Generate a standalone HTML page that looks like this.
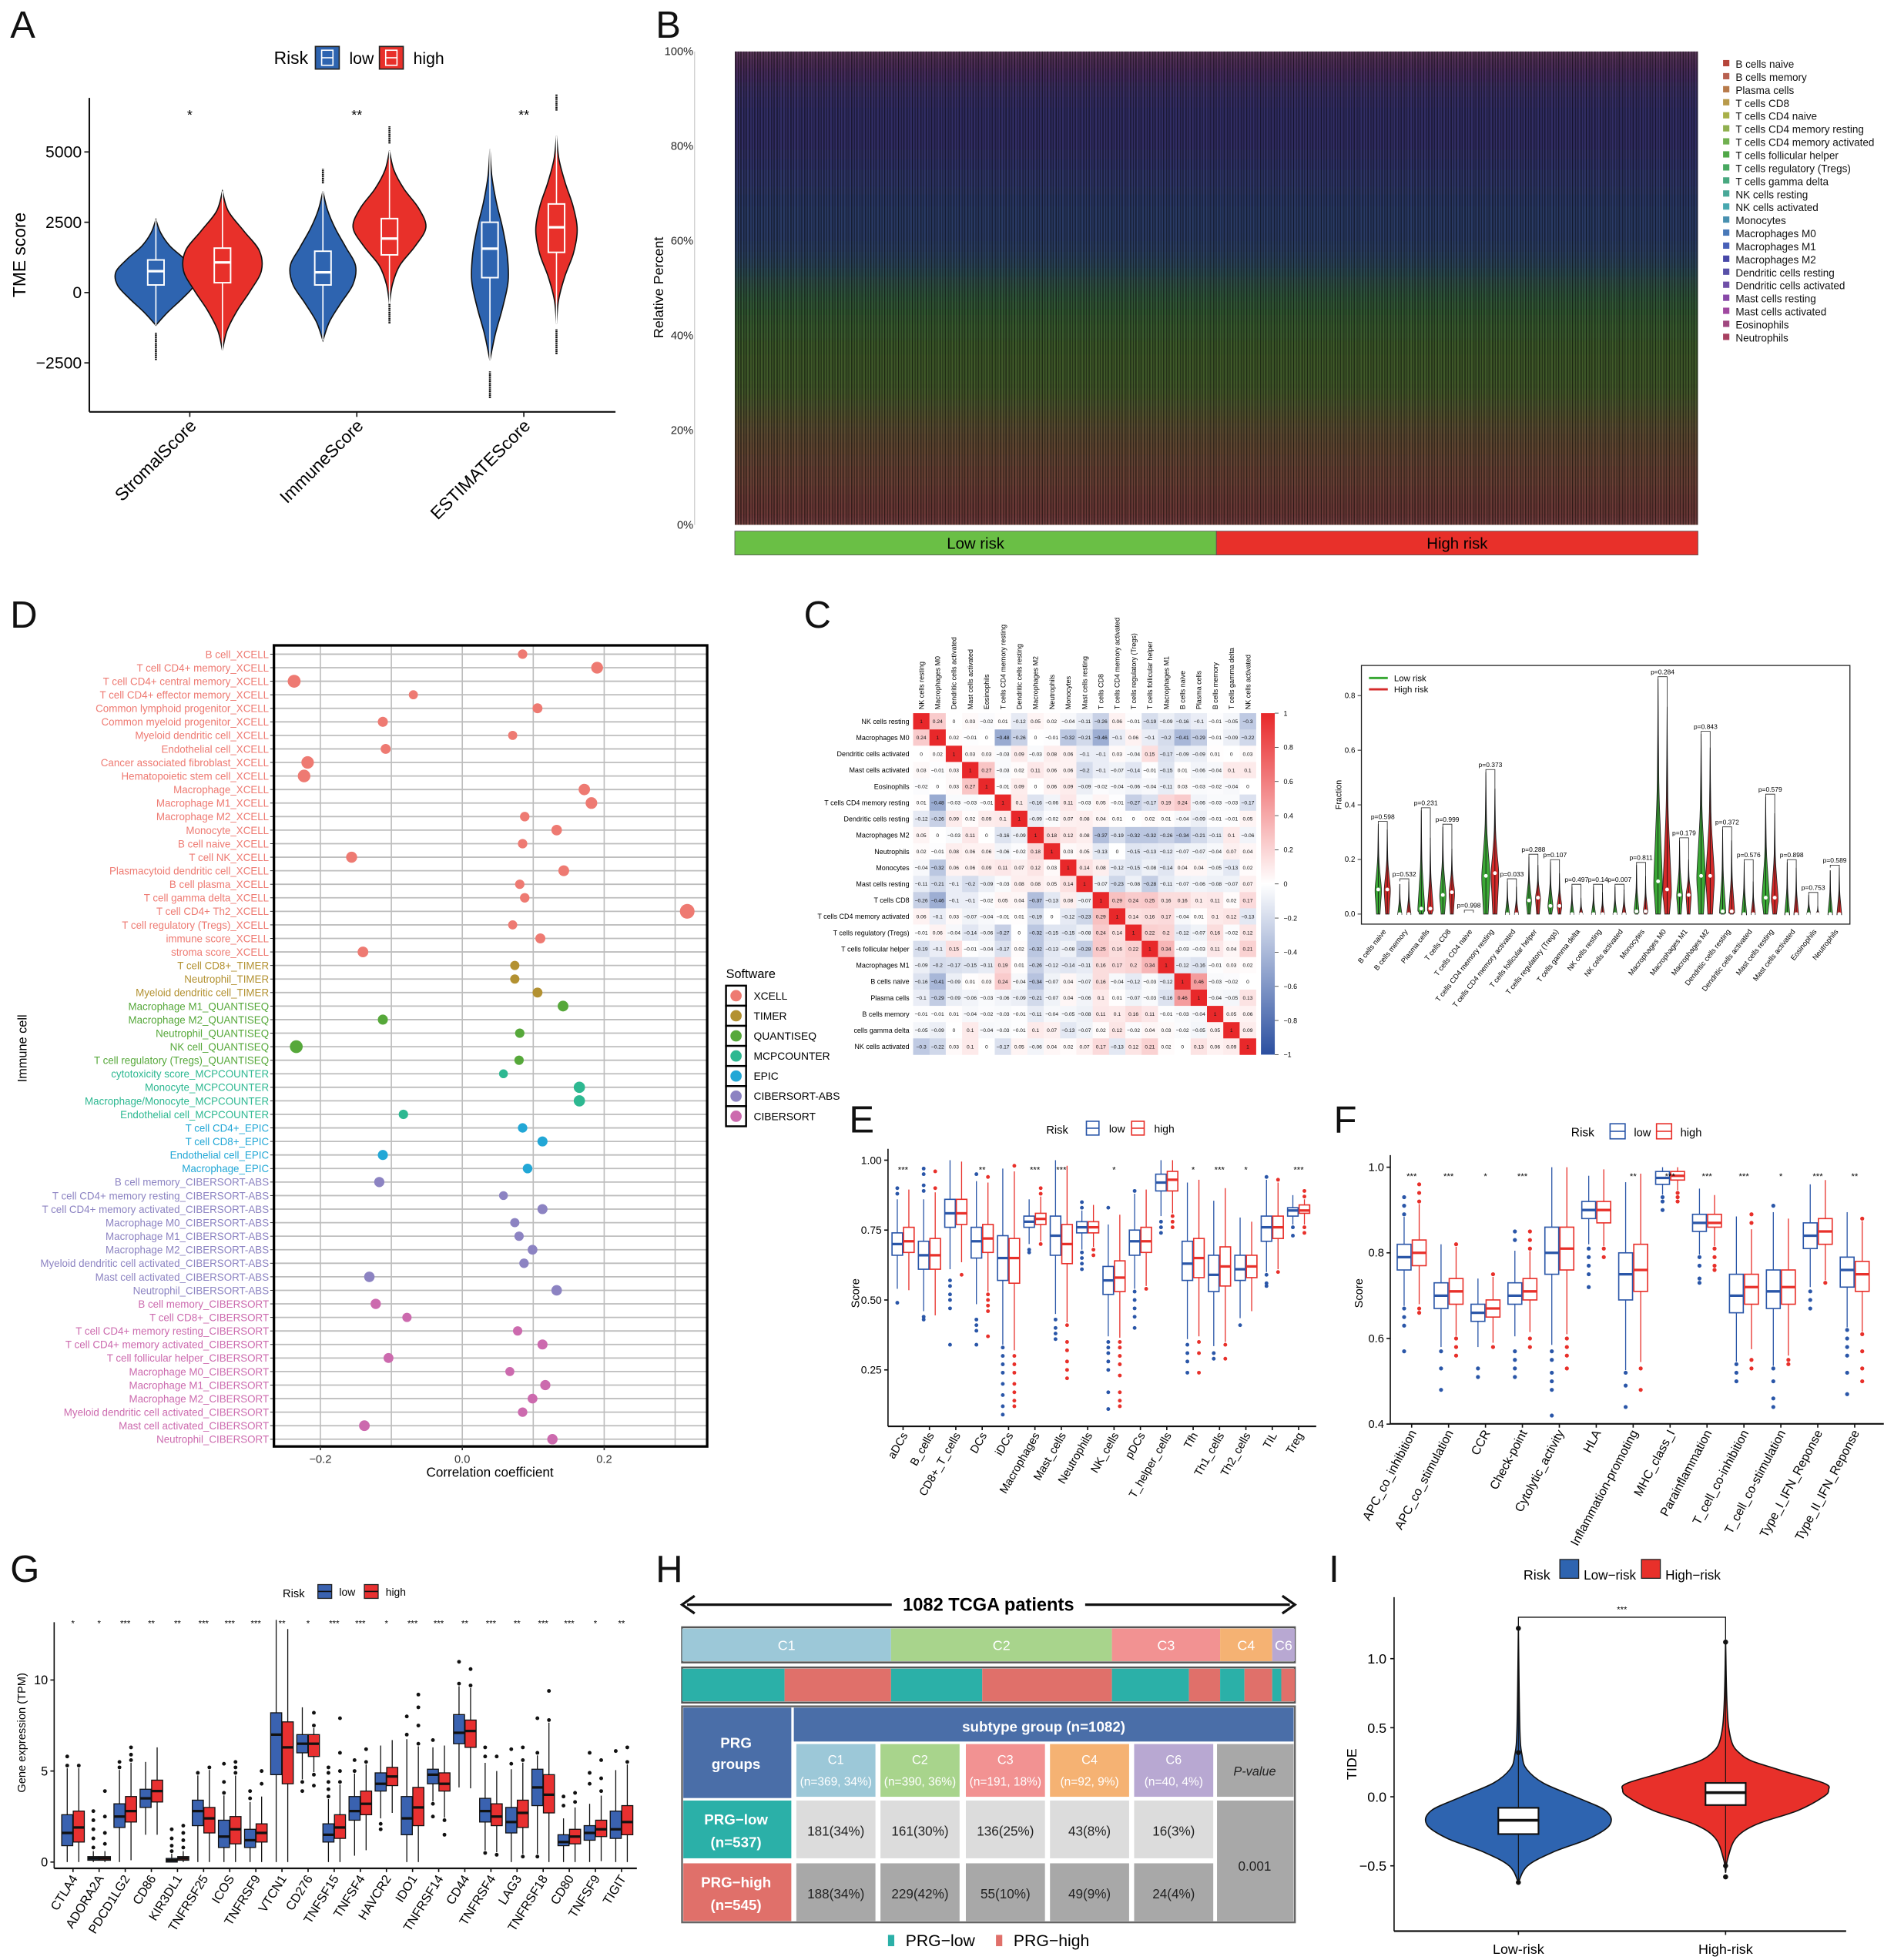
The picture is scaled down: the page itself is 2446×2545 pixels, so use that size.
<!DOCTYPE html>
<html><head><meta charset="utf-8">
<style>html,body{margin:0;padding:0;background:#fff}svg{display:block}text{font-family:"Liberation Sans",Arial,sans-serif}</style>
</head><body>
<svg id="fig" xmlns="http://www.w3.org/2000/svg" width="2446" height="2545" viewBox="0 0 1500 1561">
<defs>
<pattern id="stripes" width="2.2" height="10" patternUnits="userSpaceOnUse"><rect x="0" y="0" width="0.8" height="10" fill="#000" opacity="0.45"/></pattern>
<pattern id="stripes2" width="3.7" height="10" patternUnits="userSpaceOnUse"><rect x="1" y="0" width="0.6" height="10" fill="#000" opacity="0.3"/></pattern>
<filter id="vblur" x="0" y="-0.2" width="1" height="1.4"><feGaussianBlur stdDeviation="0 14"/></filter>
<linearGradient id="cbar" x1="0" y1="1" x2="0" y2="0"><stop offset="0" stop-color="#2b4fa0"/><stop offset="0.5" stop-color="#ffffff"/><stop offset="1" stop-color="#e8282a"/></linearGradient>
</defs>
</svg>
<script>
// ---------------- DATA ----------------
// Panel A
const aCats=['StromalScore','ImmuneScore','ESTIMATEScore'];
const aSig=['*','**','**'];
const aLowBox=[[270,760,1160],[270,720,1470],[530,1560,2500]];
const aHighBox=[[350,1070,1580],[1340,1920,2630],[1430,2320,3150]];
const aLowRange=[[-1160,2590],[-1700,3600],[-2400,5090]];
const aHighRange=[[-2050,3600],[-400,5040],[-1100,5570]];
const aLowDens=[[0,.3,.65,.95,1,.72,.35,.12,0],[0,.2,.55,.92,1,.7,.38,.14,0],[0,.3,.7,1,.95,.7,.35,.1,0]];
const aHighDens=[[0,.12,.38,.72,1,.95,.55,.15,0],[0,.08,.28,.7,1,.8,.4,.12,0],[0,.1,.4,.82,1,.8,.42,.12,0]];
const aLowOut=[[[-2400,-1430]],[[3880,4400]],[[-3750,-2800]]];
const aHighOut=[[],[[5300,5910],[-1100,-400]],[[6470,7050],[-2190,-1300]]];
const aYTicks=[-2500,0,2500,5000];
// Panel B
const bCells=['B cells naive','B cells memory','Plasma cells','T cells CD8','T cells CD4 naive','T cells CD4 memory resting','T cells CD4 memory activated','T cells follicular helper','T cells regulatory (Tregs)','T cells gamma delta','NK cells resting','NK cells activated','Monocytes','Macrophages M0','Macrophages M1','Macrophages M2','Dendritic cells resting','Dendritic cells activated','Mast cells resting','Mast cells activated','Eosinophils','Neutrophils'];
const bMeanFrac=[.06,.01,.08,.09,.005,.16,.01,.06,.04,.005,.02,.01,.01,.14,.07,.16,.01,.01,.04,.005,.002,.005];
const bYTicks=['0%','20%','40%','60%','80%','100%'];
const bGroups=['Low risk','High risk'];
const bGroupN=[541,541];
// Panel D
const dLabels=['B cell_XCELL','T cell CD4+ memory_XCELL','T cell CD4+ central memory_XCELL','T cell CD4+ effector memory_XCELL','Common lymphoid progenitor_XCELL','Common myeloid progenitor_XCELL','Myeloid dendritic cell_XCELL','Endothelial cell_XCELL','Cancer associated fibroblast_XCELL','Hematopoietic stem cell_XCELL','Macrophage_XCELL','Macrophage M1_XCELL','Macrophage M2_XCELL','Monocyte_XCELL','B cell naive_XCELL','T cell NK_XCELL','Plasmacytoid dendritic cell_XCELL','B cell plasma_XCELL','T cell gamma delta_XCELL','T cell CD4+ Th2_XCELL','T cell regulatory (Tregs)_XCELL','immune score_XCELL','stroma score_XCELL','T cell CD8+_TIMER','Neutrophil_TIMER','Myeloid dendritic cell_TIMER','Macrophage M1_QUANTISEQ','Macrophage M2_QUANTISEQ','Neutrophil_QUANTISEQ','NK cell_QUANTISEQ','T cell regulatory (Tregs)_QUANTISEQ','cytotoxicity score_MCPCOUNTER','Monocyte_MCPCOUNTER','Macrophage/Monocyte_MCPCOUNTER','Endothelial cell_MCPCOUNTER','T cell CD4+_EPIC','T cell CD8+_EPIC','Endothelial cell_EPIC','Macrophage_EPIC','B cell memory_CIBERSORT-ABS','T cell CD4+ memory resting_CIBERSORT-ABS','T cell CD4+ memory activated_CIBERSORT-ABS','Macrophage M0_CIBERSORT-ABS','Macrophage M1_CIBERSORT-ABS','Macrophage M2_CIBERSORT-ABS','Myeloid dendritic cell activated_CIBERSORT-ABS','Mast cell activated_CIBERSORT-ABS','Neutrophil_CIBERSORT-ABS','B cell memory_CIBERSORT','T cell CD8+_CIBERSORT','T cell CD4+ memory resting_CIBERSORT','T cell CD4+ memory activated_CIBERSORT','T cell follicular helper_CIBERSORT','Macrophage M0_CIBERSORT','Macrophage M1_CIBERSORT','Macrophage M2_CIBERSORT','Myeloid dendritic cell activated_CIBERSORT','Mast cell activated_CIBERSORT','Neutrophil_CIBERSORT'];
const dValues=[0.085,0.19,-0.237,-0.069,0.106,-0.112,0.071,-0.108,-0.218,-0.223,0.172,0.182,0.088,0.133,0.085,-0.156,0.143,0.081,0.088,0.317,0.071,0.11,-0.14,0.074,0.074,0.106,0.142,-0.112,0.081,-0.234,0.08,0.058,0.165,0.165,-0.083,0.085,0.113,-0.112,0.092,-0.117,0.058,0.113,0.074,0.08,0.099,0.087,-0.131,0.133,-0.122,-0.078,0.078,0.113,-0.104,0.067,0.117,0.099,0.085,-0.138,0.127];
const dSoftware=['XCELL','TIMER','QUANTISEQ','MCPCOUNTER','EPIC','CIBERSORT-ABS','CIBERSORT'];
const dSoftCounts=[23,3,5,4,4,9,11];
const dXTicks=[-0.2,0.0,0.2];
// Panel C heatmap
const cCells=['NK cells resting','Macrophages M0','Dendritic cells activated','Mast cells activated','Eosinophils','T cells CD4 memory resting','Dendritic cells resting','Macrophages M2','Neutrophils','Monocytes','Mast cells resting','T cells CD8','T cells CD4 memory activated','T cells regulatory (Tregs)','T cells follicular helper','Macrophages M1','B cells naive','Plasma cells','B cells memory','T cells gamma delta','NK cells activated'];
const cRowLabels=['NK cells resting','Macrophages M0','Dendritic cells activated','Mast cells activated','Eosinophils','T cells CD4 memory resting','Dendritic cells resting','Macrophages M2','Neutrophils','Monocytes','Mast cells resting','T cells CD8','T cells CD4 memory activated','T cells regulatory (Tregs)','T cells follicular helper','Macrophages M1','B cells naive','Plasma cells','B cells memory','cells gamma delta','NK cells activated'];
const cMatrix=[
[1,0.24,0,0.03,-0.02,0.01,-0.12,0.05,0.02,-0.04,-0.11,-0.26,0.06,-0.01,-0.19,-0.09,-0.16,-0.1,-0.01,-0.05,-0.3],
[0.24,1,0.02,-0.01,0,-0.48,-0.26,0,-0.01,-0.32,-0.21,-0.46,-0.1,0.06,-0.1,-0.2,-0.41,-0.29,-0.01,-0.09,-0.22],
[0,0.02,1,0.03,0.03,-0.03,0.09,-0.03,0.08,0.06,-0.1,-0.1,0.03,-0.04,0.15,-0.17,-0.09,-0.09,0.01,0,0.03],
[0.03,-0.01,0.03,1,0.27,-0.03,0.02,0.11,0.06,0.06,-0.2,-0.1,-0.07,-0.14,-0.01,-0.15,0.01,-0.06,-0.04,0.1,0.1],
[-0.02,0,0.03,0.27,1,-0.01,0.09,0,0.06,0.09,-0.09,-0.02,-0.04,-0.06,-0.04,-0.11,0.03,-0.03,-0.02,-0.04,0],
[0.01,-0.48,-0.03,-0.03,-0.01,1,0.1,-0.16,-0.06,0.11,-0.03,0.05,-0.01,-0.27,-0.17,0.19,0.24,-0.06,-0.03,-0.03,-0.17],
[-0.12,-0.26,0.09,0.02,0.09,0.1,1,-0.09,-0.02,0.07,0.08,0.04,0.01,0,0.02,0.01,-0.04,-0.09,-0.01,-0.01,0.05],
[0.05,0,-0.03,0.11,0,-0.16,-0.09,1,0.18,0.12,0.08,-0.37,-0.19,-0.32,-0.32,-0.26,-0.34,-0.21,-0.11,0.1,-0.06],
[0.02,-0.01,0.08,0.06,0.06,-0.06,-0.02,0.18,1,0.03,0.05,-0.13,0,-0.15,-0.13,-0.12,-0.07,-0.07,-0.04,0.07,0.04],
[-0.04,-0.32,0.06,0.06,0.09,0.11,0.07,0.12,0.03,1,0.14,0.08,-0.12,-0.15,-0.08,-0.14,0.04,0.04,-0.05,-0.13,0.02],
[-0.11,-0.21,-0.1,-0.2,-0.09,-0.03,0.08,0.08,0.05,0.14,1,-0.07,-0.23,-0.08,-0.28,-0.11,-0.07,-0.06,-0.08,-0.07,0.07],
[-0.26,-0.46,-0.1,-0.1,-0.02,0.05,0.04,-0.37,-0.13,0.08,-0.07,1,0.29,0.24,0.25,0.16,0.16,0.1,0.11,0.02,0.17],
[0.06,-0.1,0.03,-0.07,-0.04,-0.01,0.01,-0.19,0,-0.12,-0.23,0.29,1,0.14,0.16,0.17,-0.04,0.01,0.1,0.12,-0.13],
[-0.01,0.06,-0.04,-0.14,-0.06,-0.27,0,-0.32,-0.15,-0.15,-0.08,0.24,0.14,1,0.22,0.2,-0.12,-0.07,0.16,-0.02,0.12],
[-0.19,-0.1,0.15,-0.01,-0.04,-0.17,0.02,-0.32,-0.13,-0.08,-0.28,0.25,0.16,0.22,1,0.34,-0.03,-0.03,0.11,0.04,0.21],
[-0.09,-0.2,-0.17,-0.15,-0.11,0.19,0.01,-0.26,-0.12,-0.14,-0.11,0.16,0.17,0.2,0.34,1,-0.12,-0.16,-0.01,0.03,0.02],
[-0.16,-0.41,-0.09,0.01,0.03,0.24,-0.04,-0.34,-0.07,0.04,-0.07,0.16,-0.04,-0.12,-0.03,-0.12,1,0.46,-0.03,-0.02,0],
[-0.1,-0.29,-0.09,-0.06,-0.03,-0.06,-0.09,-0.21,-0.07,0.04,-0.06,0.1,0.01,-0.07,-0.03,-0.16,0.46,1,-0.04,-0.05,0.13],
[-0.01,-0.01,0.01,-0.04,-0.02,-0.03,-0.01,-0.11,-0.04,-0.05,-0.08,0.11,0.1,0.16,0.11,-0.01,-0.03,-0.04,1,0.05,0.06],
[-0.05,-0.09,0,0.1,-0.04,-0.03,-0.01,0.1,0.07,-0.13,-0.07,0.02,0.12,-0.02,0.04,0.03,-0.02,-0.05,0.05,1,0.09],
[-0.3,-0.22,0.03,0.1,0,-0.17,0.05,-0.06,0.04,0.02,0.07,0.17,-0.13,0.12,0.21,0.02,0,0.13,0.06,0.09,1]];
const cBarTicks=[1,0.8,0.6,0.4,0.2,0,-0.2,-0.4,-0.6,-0.8,-1];
// Panel C violins
const vCats=['B cells naive','B cells memory','Plasma cells','T cells CD8','T cells CD4 naive','T cells CD4 memory resting','T cells CD4 memory activated','T cells follicular helper','T cells regulatory (Tregs)','T cells gamma delta','NK cells resting','NK cells activated','Monocytes','Macrophages M0','Macrophages M1','Macrophages M2','Dendritic cells resting','Dendritic cells activated','Mast cells resting','Mast cells activated','Eosinophils','Neutrophils'];
const vLowMax=[0.33,0.11,0.38,0.32,0.005,0.52,0.12,0.21,0.19,0.10,0.10,0.10,0.18,0.86,0.27,0.66,0.31,0.19,0.43,0.19,0.07,0.16];
const vHighMax=[0.31,0.12,0.28,0.24,0.005,0.46,0.10,0.18,0.15,0.06,0.08,0.09,0.14,0.76,0.20,0.61,0.27,0.12,0.37,0.17,0.03,0.17];
const vLowMed=[0.09,0,0.02,0.07,0,0.14,0,0.05,0.03,0,0,0,0.01,0.12,0.07,0.14,0.01,0,0.06,0,0,0];
const vHighMed=[0.09,0,0.02,0.08,0,0.15,0,0.06,0.03,0,0,0,0.01,0.09,0.07,0.14,0.01,0,0.06,0,0,0];
const vP=['p=0.598','p=0.532','p=0.231','p=0.999','p=0.998','p=0.373','p=0.033','p=0.288','p=0.107','p=0.497','p=0.14','p=0.007','p=0.811','p=0.284','p=0.179','p=0.843','p=0.372','p=0.576','p=0.579','p=0.898','p=0.753','p=0.589'];
const vYTicks=[0,0.2,0.4,0.6,0.8];
// Panel E
const eCats=['aDCs','B_cells','CD8+_T_cells','DCs','iDCs','Macrophages','Mast_cells','Neutrophils','NK_cells','pDCs','T_helper_cells','Tfh','Th1_cells','Th2_cells','TIL','Treg'];
const eSig=['***','','','**','','***','***','','*','','','*','***','*','','***'];
const eLow=[[0.66,0.70,0.74],[0.61,0.66,0.71],[0.76,0.81,0.86],[0.65,0.71,0.76],[0.57,0.65,0.73],[0.76,0.78,0.80],[0.66,0.73,0.80],[0.74,0.76,0.78],[0.52,0.57,0.62],[0.66,0.71,0.75],[0.89,0.92,0.95],[0.57,0.63,0.71],[0.53,0.59,0.66],[0.57,0.61,0.66],[0.71,0.76,0.80],[0.80,0.82,0.83]];
const eHigh=[[0.67,0.71,0.76],[0.61,0.66,0.72],[0.77,0.81,0.86],[0.67,0.72,0.77],[0.56,0.65,0.72],[0.77,0.79,0.81],[0.63,0.70,0.77],[0.74,0.76,0.78],[0.53,0.58,0.64],[0.67,0.71,0.76],[0.89,0.93,0.96],[0.58,0.65,0.72],[0.55,0.62,0.69],[0.58,0.62,0.66],[0.72,0.76,0.80],[0.81,0.82,0.84]];
const eLowOut=[[0.9,0.88,0.49],[0.97,0.95,0.91,0.89,0.44,0.43],[0.57,0.55,0.52,0.5,0.47,0.34],[0.95,0.43,0.41,0.39,0.34],[0.33,0.3,0.27,0.24,0.2,0.16,0.12,0.09],[0.68,0.67],[0.43,0.4,0.38,0.36],[0.85,0.83,0.67,0.65,0.63,0.61],[0.83,0.35,0.33,0.31,0.28,0.25,0.17,0.11],[0.89,0.53,0.5,0.47,0.44,0.4],[0.78,0.76,0.74],[0.34,0.31,0.28,0.24],[0.31,0.29],[0.41],[0.94,0.59,0.56,0.55],[0.76,0.73]];
const eHighOut=[[],[0.96,0.9],[0.59],[0.94,0.52,0.5,0.48,0.46,0.37],[0.98,0.3,0.27,0.24,0.2,0.17,0.14,0.12],[0.9,0.88,0.7],[0.41,0.35,0.32,0.28,0.25,0.22],[0.68,0.66],[0.35,0.33,0.3,0.27,0.23,0.17,0.14,0.12],[0.54],[0.8,0.78,0.76],[0.35,0.31,0.24],[0.34,0.29],[],[0.93,0.6],[0.89,0.87,0.76,0.74]];
const eYTicks=[0.25,0.50,0.75,1.00];
// Panel F
const fCats=['APC_co_inhibition','APC_co_stimulation','CCR','Check-point','Cytolytic_activity','HLA','Inflammation-promoting','MHC_class_I','Parainflammation','T_cell_co-inhibition','T_cell_co-stimulation','Type_I_IFN_Reponse','Type_II_IFN_Reponse'];
const fSig=['***','***','*','***','','','**','***','***','***','*','***','**'];
const fLow=[[0.76,0.79,0.82],[0.67,0.70,0.73],[0.64,0.66,0.68],[0.68,0.70,0.73],[0.75,0.80,0.86],[0.88,0.90,0.92],[0.69,0.75,0.80],[0.96,0.975,0.99],[0.85,0.87,0.89],[0.66,0.70,0.75],[0.67,0.71,0.76],[0.81,0.84,0.87],[0.72,0.76,0.79]];
const fHigh=[[0.77,0.80,0.83],[0.68,0.71,0.74],[0.65,0.67,0.69],[0.69,0.71,0.74],[0.76,0.81,0.86],[0.87,0.90,0.92],[0.71,0.76,0.82],[0.97,0.98,0.99],[0.86,0.87,0.89],[0.68,0.72,0.75],[0.68,0.72,0.76],[0.82,0.85,0.88],[0.71,0.75,0.78]];
const fLowOut=[[0.93,0.91,0.89,0.67,0.65,0.63,0.57],[0.57,0.53,0.48],[0.53,0.51],[0.85,0.83,0.57,0.55,0.53,0.51],[0.57,0.55,0.52,0.5,0.48,0.42],[0.81,0.79,0.77,0.75,0.72],[0.52,0.49,0.44],[0.93,0.92,0.9],[0.79,0.77,0.74,0.73],[0.54,0.52,0.5],[0.91,0.53,0.5,0.46,0.44],[0.71,0.69,0.67],[0.62,0.6,0.58,0.56,0.52,0.47]];
const fHighOut=[[0.96,0.94,0.92,0.67,0.66],[0.82,0.6,0.58,0.56],[0.75,0.58],[0.85,0.83,0.81,0.6,0.58],[0.6,0.58,0.56,0.53],[0.81,0.79],[0.53,0.48],[0.94,0.93,0.92],[0.81,0.79,0.77,0.76],[0.89,0.87,0.55,0.53],[0.55,0.54],[0.73],[0.88,0.61,0.57,0.53,0.5]];
const fYTicks=[0.4,0.6,0.8,1.0];
// Panel G
const gGenes=['CTLA4','ADORA2A','PDCD1LG2','CD86','KIR3DL1','TNFRSF25','ICOS','TNFRSF9','VTCN1','CD276','TNFSF15','TNFSF4','HAVCR2','IDO1','TNFRSF14','CD44','TNFRSF4','LAG3','TNFRSF18','CD80','TNFSF9','TIGIT'];
const gSig=['*','*','***','**','**','***','***','***','**','*','***','***','*','***','***','**','***','**','***','***','*','**'];
const gLow=[[0.9,1.6,2.6],[0.1,0.2,0.3],[1.9,2.5,3.2],[3.0,3.5,4.0],[0,0.1,0.2],[2.0,2.8,3.4],[0.8,1.4,2.3],[0.8,1.2,1.8],[4.8,7.0,8.2],[6.0,6.5,7.0],[1.1,1.5,2.1],[2.3,2.8,3.6],[3.9,4.3,4.9],[1.5,2.4,3.6],[4.3,4.8,5.1],[6.5,7.1,8.1],[2.2,2.8,3.5],[1.6,2.2,3.0],[3.1,4.1,5.1],[0.9,1.1,1.5],[1.2,1.6,2.0],[1.3,1.8,2.8]];
const gHigh=[[1.1,1.9,2.8],[0.1,0.2,0.3],[2.2,2.8,3.6],[3.3,3.9,4.5],[0.1,0.2,0.3],[1.6,2.4,3.0],[1.0,1.8,2.5],[1.1,1.6,2.1],[4.3,6.3,7.7],[5.8,6.5,7.0],[1.3,1.9,2.6],[2.6,3.2,3.9],[4.2,4.7,5.2],[2.0,3.0,4.1],[3.9,4.3,4.9],[6.3,7.2,7.8],[2.0,2.5,3.2],[1.9,2.7,3.4],[2.7,3.7,4.8],[1.0,1.4,1.8],[1.4,1.8,2.3],[1.5,2.2,3.1]];
const gLowOut=[[5.8,5.3],[2.8,2.3,1.8,1.3,0.8],[5.2,5.5],[],[1.8,1.3,0.9,0.6],[4.9],[5.4,4.4,3.8],[3.9,3.5],[],[4.4,3.9],[5.2,4.9,4.4,4.0,3.6],[5.6,5.0],[2.1,1.8],[8.0,7.0],[6.7,3.2,2.5],[11.0,9.8],[6.3,5.8,0.5],[6.2,5.4],[7.9,6.0,0.3],[3.6,3.1],[6.0,4.9,4.3],[6.1]];
const gHighOut=[[5.3],[3.9,2.5,1.6,1.0],[6.3,5.9,5.6],[],[2.0,1.6,1.2,0.8],[5.2],[5.5,5.2,4.9],[5.0,4.3],[],[8.2,7.5,4.8,4.2],[7.9,6.0,5.0,4.4],[6.2,5.5],[],[9.2,8.5,7.5,6.5],[2.3,1.5],[10.6,9.7],[5.8,0.4],[6.3,5.6,0.3],[9.4,7.8],[3.8,3.3],[5.6,4.6,3.9],[6.3,5.5]];
const gYTicks=[0,5,10];
// Panel H
const hSubtypes=['C1','C2','C3','C4','C6'];
const hLowN=[181,161,136,43,16];
const hHighN=[188,229,55,49,24];
const hLowPct=['34%','30%','25%','8%','3%'];
const hHighPct=['34%','42%','10%','9%','4%'];
const hSubPct=['34%','36%','18%','9%','4%'];
const hPValue='0.001';
// Panel I
const iCats=['Low-risk','High-risk'];
const iLowBox=[-0.27,-0.17,-0.08];
const iHighBox=[-0.06,0.03,0.10];
const iLowY=[-0.62,-0.5,-0.4,-0.3,-0.2,-0.1,0,0.1,0.2,0.3,0.5,1.22];
const iLowW=[0,0.1,0.38,0.78,1,0.95,0.62,0.27,0.09,0.04,0.015,0];
const iHighY=[-0.55,-0.45,-0.3,-0.2,-0.1,0,0.05,0.1,0.2,0.3,0.5,1.12];
const iHighW=[0,0.02,0.1,0.3,0.7,0.95,1,0.95,0.5,0.16,0.03,0];
const iLowOut=[1.22,0.32,-0.62];
const iHighOut=[1.12,-0.5,-0.58];
const iYTicks=[-0.5,0.0,0.5,1.0];

// ---------------- HELPERS ----------------
const svg=document.getElementById('fig');
const NS='http://www.w3.org/2000/svg';
function E(tag,a,p){const e=document.createElementNS(NS,tag);for(const k in a)e.setAttribute(k,a[k]);(p||svg).appendChild(e);return e;}
function T(x,y,txt,size,a,p){const e=E('text',Object.assign({x:x,y:y,'font-size':size},a||{}),p);e.textContent=txt;return e;}
function nm(el,name,inter){
  
  
  return el;}
function grp(name){const g=E('g',{});
  
  
  return g;}
function smoothPath(pts){let d='M'+pts[0][0].toFixed(2)+','+pts[0][1].toFixed(2);
  for(let i=0;i<pts.length-1;i++){const p0=pts[i-1]||pts[i],p1=pts[i],p2=pts[i+1],p3=pts[i+2]||p2;
    const c1=[p1[0]+(p2[0]-p0[0])/6,p1[1]+(p2[1]-p0[1])/6],c2=[p2[0]-(p3[0]-p1[0])/6,p2[1]-(p3[1]-p1[1])/6];
    d+=' C'+c1[0].toFixed(2)+','+c1[1].toFixed(2)+' '+c2[0].toFixed(2)+','+c2[1].toFixed(2)+' '+p2[0].toFixed(2)+','+p2[1].toFixed(2);}
  return d;}
function violinPath(cx,ys,ws,yf,half){
  const right=ys.map((v,i)=>[cx+ws[i]*half,yf(v)]);
  const left=ys.map((v,i)=>[cx-ws[i]*half,yf(v)]).reverse();
  return smoothPath(right)+' L'+smoothPath(left).slice(1)+' Z';}
function evenYs(lo,hi,n){const a=[];for(let i=0;i<n;i++)a.push(lo+(hi-lo)*i/(n-1));return a;}
function letter(x,y,t){const e=T(x,y,t,30,{fill:'#111'});nm(e,'panel-label-'+t.toLowerCase(),false);}

// ---------------- PANEL A ----------------
(function(){
const g=grp('panel-a-tme-violin');
letter(8,30,'A');
const ay=v=>233-v*56/2500, ax=i=>151+i*133;
const l=T(218,51,'Risk',14,{},g);nm(l,'legend-title',false);
[['#2e64b0','low',251],['#e8302a','high',302]].forEach(([c,t,x])=>{
  const k=E('rect',{x:x,y:37,width:19,height:18,fill:c,stroke:'#222','stroke-width':1},g);nm(k,'legend-key-'+t,false);
  E('rect',{x:x+5,y:40,width:9,height:12,fill:'none',stroke:'#fff','stroke-width':1},g);
  E('line',{x1:x+5,x2:x+14,y1:46,y2:46,stroke:'#fff'},g);
  const tt=T(x+27,51,t,13,{},g);nm(tt,'legend-label-'+t,false);});
E('line',{x1:71,x2:71,y1:78,y2:328,stroke:'#111','stroke-width':1.3},g);
E('line',{x1:71,x2:490,y1:328,y2:328,stroke:'#111','stroke-width':1.3},g);
aYTicks.forEach(v=>{E('line',{x1:67,x2:71,y1:ay(v),y2:ay(v),stroke:'#111'},g);
  const t=T(65,ay(v)+4.5,v==0?'0':(v<0?'\u22122500':String(v)),13,{'text-anchor':'end'},g);nm(t,'y-tick-label',false);});
const yt=T(0,0,'TME score',14,{transform:'translate(20,203) rotate(-90)','text-anchor':'middle'},g);nm(yt,'y-axis-title',false);
aCats.forEach((c,i)=>{
  E('line',{x1:ax(i),x2:ax(i),y1:328,y2:332,stroke:'#111'},g);
  const t=T(0,0,c,14,{transform:'translate('+(ax(i)+6)+',340) rotate(-45)','text-anchor':'end'},g);nm(t,'x-tick-label',false);
  const s=T(ax(i),95,aSig[i],11,{'text-anchor':'middle'},g);nm(s,'significance-stars',false);
  [[aLowRange,aLowDens,aLowBox,aLowOut,-27,'#2e64b0','low',[32,26,14.5]],[aHighRange,aHighDens,aHighBox,aHighOut,26,'#e8302a','high',[31,29,16.5]]].forEach(([R,D,B,O,off,col,nmx,peaks])=>{
    const cx=ax(i)+off;
    O[i].forEach(seg=>{const o=E('line',{x1:cx,x2:cx,y1:ay(seg[0]),y2:ay(seg[1]),stroke:'#111','stroke-width':1.6,'stroke-dasharray':'1.2 0.4'},g);nm(o,'outlier-points',false);});
    const p=E('path',{d:violinPath(cx,evenYs(R[i][0],R[i][1],D[i].length),D[i],ay,peaks[i]),fill:col,stroke:'#111','stroke-width':1},g);nm(p,'violin-'+nmx+'-'+c,false);
    E('line',{x1:cx,x2:cx,y1:ay(R[i][0]),y2:ay(R[i][1]),stroke:'#fff','stroke-width':1},g);
    const b=E('rect',{x:cx-6.5,y:ay(B[i][2]),width:13,height:ay(B[i][0])-ay(B[i][2]),fill:col,stroke:'#fff','stroke-width':1.2},g);nm(b,'box-'+nmx+'-'+c,false);
    E('line',{x1:cx-6.5,x2:cx+6.5,y1:ay(B[i][1]),y2:ay(B[i][1]),stroke:'#fff','stroke-width':2},g);
  });
});
})();

// ---------------- PANEL B ----------------
(function(){
const g=grp('panel-b-relative-percent');
letter(522,30,'B');
const x0=585,x1=1352,y0=41,y1=418;
const by=f=>y1-(y1-y0)*f;
const cols=['#b5443a','#b86050','#b87a4a','#b89a4a','#a8b048','#90b050','#70b050','#50a848','#48a860','#48a880','#48a898','#48a8b0','#4890b0','#4878b8','#4860b8','#4848a8','#5850a8','#7050a8','#8848a8','#a048a0','#a04880','#a84060'];
const dark=['#6a3434','#6a3c34','#6a4234','#5c4a30','#4e5a2c','#3f5a2c','#365a2c','#305a30','#2e5236','#2e4c40','#2c4850','#2c4456','#2c405c','#2c3a66','#2e3468','#302f66','#382e62','#422c5e','#4a2c58','#502c50','#542c4a','#582c44'];
const stack=E('g',{filter:'url(#vblur)'},g);nm(stack,'stacked-bars',false);
const clip=E('clipPath',{id:'bclip'},g);E('rect',{x:x0,y:y0,width:x1-x0,height:y1-y0},clip);
stack.setAttribute('clip-path','url(#bclip)');
let tot=bMeanFrac.reduce((a,b)=>a+b,0),acc=0;
bMeanFrac.forEach((f,i)=>{const lo=acc/tot,hi=(acc+f)/tot;acc+=f;
  const r=E('rect',{x:x0,y:by(hi)-(i==bMeanFrac.length-1?20:0),width:x1-x0,height:by(lo)-by(hi)+(i==0?20:0)+(i==bMeanFrac.length-1?20:0),fill:dark[i]},stack);nm(r,'stack-segment-'+i,false);});
E('rect',{x:x0,y:y0,width:x1-x0,height:y1-y0,fill:'url(#stripes)'},g);
E('rect',{x:x0,y:y0,width:x1-x0,height:y1-y0,fill:'url(#stripes2)'},g);
E('line',{x1:553,x2:553,y1:y0,y2:y1,stroke:'#bbb','stroke-width':0.6},g);
bYTicks.forEach((t,i)=>{const y=by(i/5);const tt=T(552,y+3,t,9,{'text-anchor':'end',fill:'#222'},g);nm(tt,'y-tick-label',false);});
const yt=T(0,0,'Relative Percent',11,{transform:'translate(528,229) rotate(-90)','text-anchor':'middle'},g);nm(yt,'y-axis-title',false);
const ntot=bGroupN[0]+bGroupN[1];
const gx=n=>x0+(x1-x0)*n/ntot;
const gc=['#6abf45','#e8302a'];let s=0;
bGroups.forEach((n,i)=>{const r=E('rect',{x:gx(s),y:423,width:gx(s+bGroupN[i])-gx(s),height:19,fill:gc[i],stroke:'#555','stroke-width':0.5},g);nm(r,'risk-bar-'+n.toLowerCase().replace(' ','-'),false);
  const t=T((gx(s)+gx(s+bGroupN[i]))/2,437,n,12.5,{'text-anchor':'middle'},g);nm(t,'risk-bar-label',false);s+=bGroupN[i];});
bCells.forEach((c,i)=>{const y=51+i*10.38;
  const r=E('rect',{x:1372,y:y-3.2,width:5,height:5,fill:cols[i]},g);nm(r,'legend-key',false);
  const t=T(1382,y+3,c,8.3,{fill:'#111'},g);nm(t,'legend-entry',false);});
})();

// ---------------- PANEL D ----------------
(function(){
const g=grp('panel-d-correlation-dots');
letter(8,500,'D');
const sc=['#ee7a72','#b39131','#56a83a','#2db891','#22a7d6','#8c83c2','#cc6aae'];
const bx0=218,bx1=563,by0=514,by1=1152;
const dx=v=>368+v*565, dy=i=>521+i*10.78;
[-0.25,-0.15,-0.05,0.05,0.15,0.25,0.35].forEach(v=>{const x=dx(v-0.05);if(x>bx0&&x<bx1)E('line',{x1:x,x2:x,y1:by0,y2:by1,stroke:'#ccc','stroke-width':0.6},g);});
dXTicks.concat([-0.1,0.1,0.3]).forEach(v=>E('line',{x1:dx(v),x2:dx(v),y1:by0,y2:by1,stroke:'#bdbdbd','stroke-width':1},g));
let soft=[];dSoftCounts.forEach((n,k)=>{for(let j=0;j<n;j++)soft.push(k);});
dLabels.forEach((lab,i)=>{E('line',{x1:bx0,x2:bx1,y1:dy(i),y2:dy(i),stroke:'#bdbdbd','stroke-width':1.1},g);
  E('line',{x1:bx0-3,x2:bx0,y1:dy(i),y2:dy(i),stroke:'#333','stroke-width':0.6},g);
  const t=T(214,dy(i)+3,lab,8.2,{'text-anchor':'end',fill:sc[soft[i]]},g);nm(t,'row-label',false);});
dValues.forEach((v,i)=>{const c=E('circle',{cx:dx(v),cy:dy(i),r:3+Math.abs(v)*9,fill:sc[soft[i]]},g);nm(c,'dot-'+dLabels[i],false);});
E('rect',{x:bx0,y:by0,width:bx1-bx0,height:by1-by0,fill:'none',stroke:'#000','stroke-width':2},g);
dXTicks.forEach(v=>{E('line',{x1:dx(v),x2:dx(v),y1:by1,y2:by1+3,stroke:'#333'},g);
  const t=T(dx(v),by1+13,v.toFixed(1).replace('-','\u2212'),9,{'text-anchor':'middle',fill:'#333'},g);nm(t,'x-tick-label',false);});
const xt=T(390,1176,'Correlation coefficient',10.5,{'text-anchor':'middle'},g);nm(xt,'x-axis-title',false);
const yt=T(0,0,'Immune cell',10,{transform:'translate(21,835) rotate(-90)','text-anchor':'middle'},g);nm(yt,'y-axis-title',false);
const lt=T(578,779,'Software',10,{},g);nm(lt,'legend-title',false);
dSoftware.forEach((s,k)=>{const y=793+k*16;
  E('rect',{x:578,y:y-8,width:16,height:16,fill:'#fff',stroke:'#000','stroke-width':1.5},g);
  const c=E('circle',{cx:586,cy:y,r:4.5,fill:sc[k]},g);nm(c,'legend-key',false);
  const t=T(600,y+3,s,8.5,{},g);nm(t,'legend-entry',false);});
})();

// ---------------- PANEL C HEATMAP ----------------
(function(){
const g=grp('panel-c-correlation-heatmap');
letter(640,500,'C');
const x0=727,y0=568,cw=13,ch=12.95,n=cCells.length;
function col(v){const t=Math.min(1,Math.abs(v));const a=v>=0?[232,40,42]:[43,79,160];
  const c=a.map(k=>Math.round(255+(k-255)*t));return 'rgb('+c.join(',')+')';}
cMatrix.forEach((row,r)=>row.forEach((v,c)=>{
  const rc=E('rect',{x:x0+c*cw,y:y0+r*ch,width:cw+0.2,height:ch+0.2,fill:col(v)},g);nm(rc,'heat-cell',false);
  const t=T(x0+c*cw+cw/2,y0+r*ch+ch/2+1.5,String(v).replace('-','\u2212'),4.1,{'text-anchor':'middle',fill:'#111'},g);nm(t,'cell-value',false);}));
cRowLabels.forEach((l,r)=>{const t=T(724,y0+r*ch+ch/2+2,l,5.5,{'text-anchor':'end'},g);nm(t,'row-label',false);});
cCells.forEach((l,c)=>{const t=T(0,0,l,5.5,{transform:'translate('+(x0+c*cw+cw/2+2)+','+(y0-3)+') rotate(-90)'},g);nm(t,'col-label',false);});
const cb=E('rect',{x:1004,y:y0,width:11,height:n*ch,fill:'url(#cbar)'},g);nm(cb,'color-bar',false);
cBarTicks.forEach(v=>{const y=y0+(1-v)/2*n*ch;E('line',{x1:1015,x2:1018,y1:y,y2:y,stroke:'#333','stroke-width':0.5},g);
  const t=T(1022,y+2,String(v).replace('-','\u2212'),5.5,{},g);nm(t,'colorbar-tick',false);});
})();

// ---------------- PANEL C VIOLINS ----------------
(function(){
const g=grp('panel-c-fraction-violins');
const bx0=1084,bx1=1473,by0=530,by1=736;
const vy=v=>728-v*217.5, vx=i=>1101+i*17.14;
E('rect',{x:bx0,y:by0,width:bx1-bx0,height:by1-by0,fill:'none',stroke:'#222','stroke-width':0.8},g);
vYTicks.forEach(v=>{E('line',{x1:bx0-3,x2:bx0,y1:vy(v),y2:vy(v),stroke:'#222','stroke-width':0.6},g);
  const t=T(bx0-5,vy(v)+2,v.toFixed(1),6,{'text-anchor':'end'},g);nm(t,'y-tick-label',false);});
const yt=T(0,0,'Fraction',6.5,{transform:'translate(1068,633) rotate(-90)','text-anchor':'middle'},g);nm(yt,'y-axis-title',false);
[['#3aa835','Low risk',540],['#d42a2a','High risk',549]].forEach(([c,t,y])=>{E('line',{x1:1090,x2:1105,y1:y,y2:y,stroke:c,'stroke-width':1.8},g);
  const tt=T(1110,y+2.5,t,7,{},g);nm(tt,'legend-entry',false);});
vCats.forEach((c,i)=>{
  [[vLowMax,vLowMed,-3.6,'#3aa835','low'],[vHighMax,vHighMed,3.6,'#d42a2a','high']].forEach(([M,Md,off,col,k])=>{
    const cx=vx(i)+off,mx=M[i],md=Md[i];
    const ys=[0,md*0.5,md,md+(mx-md)*0.25,md+(mx-md)*0.5,mx];
    const wid=mx<0.02?0.5:Math.min(3.4,1.2+mx*4);
    const ws=[0.55,0.8,1,0.55,0.18,0].map(w=>w);
    const p=E('path',{d:violinPath(cx,ys,ws,vy,wid),fill:col,stroke:'#222','stroke-width':0.5},g);nm(p,'violin-'+k+'-'+c,false);
    E('line',{x1:cx,x2:cx,y1:vy(0),y2:vy(mx),stroke:'#111','stroke-width':0.5},g);
    const d=E('circle',{cx:cx,cy:vy(md),r:1.5,fill:'#fff'},g);nm(d,'median-dot',false);});
  const top=Math.max(vLowMax[i],vHighMax[i]);const yb=vy(top)-2;
  E('path',{d:'M'+(vx(i)-3.6)+','+(yb+2)+' V'+yb+' H'+(vx(i)+3.6)+' V'+(vy(vHighMax[i])),fill:'none',stroke:'#222','stroke-width':0.5},g);
  const pt=T(vx(i),yb-2,vP[i],5.2,{'text-anchor':'middle'},g);nm(pt,'p-value-label',false);
  const t=T(0,0,c,5.8,{transform:'translate('+(vx(i)+3)+',742) rotate(-52)','text-anchor':'end'},g);nm(t,'x-tick-label',false);});
})();

// ---------------- BOX PLOT HELPER ----------------
function boxes(g,cats,low,high,lowOut,highOut,xf,yf,hw,gap,style,lo,hi){
  cats.forEach((c,i)=>{
    [[low,lowOut,-gap,style.lowC,'low'],[high,highOut,gap,style.highC,'high']].forEach(([B,O,off,col,k])=>{
      const cx=xf(i)+off,[q1,md,q3]=B[i],iqr=q3-q1;
      const outs=O[i];
      let wl=Math.max(lo,q1-1.5*iqr),wh=Math.min(hi,q3+1.5*iqr);
      const inLo=outs.filter(v=>v<q1),inHi=outs.filter(v=>v>q3);
      if(inLo.length)wl=Math.max(wl,Math.max(...inLo)+0.01*(hi-lo));
      if(inHi.length)wh=Math.min(wh,Math.min(...inHi)-0.01*(hi-lo));
      const sc=style.filled?'#111':col;
      E('line',{x1:cx,x2:cx,y1:yf(wl),y2:yf(q1),stroke:sc,'stroke-width':0.8},g);
      E('line',{x1:cx,x2:cx,y1:yf(q3),y2:yf(wh),stroke:sc,'stroke-width':0.8},g);
      const r=E('rect',{x:cx-hw,y:yf(q3),width:2*hw,height:yf(q1)-yf(q3),fill:style.filled?col:'#fff',stroke:sc,'stroke-width':style.filled?0.8:1},g);nm(r,'box-'+k+'-'+c,false);
      const m=E('line',{x1:cx-hw,x2:cx+hw,y1:yf(md),y2:yf(md),stroke:sc,'stroke-width':2},g);nm(m,'median-line',false);
      outs.forEach(v=>{const o=E('circle',{cx:cx,cy:yf(v),r:style.or,fill:style.filled?'#111':col},g);nm(o,'outlier-point',false);});
    });});}

// ---------------- PANEL E ----------------
(function(){
const g=grp('panel-e-immune-cell-scores');
letter(676,902,'E');
const ey=v=>924+(1-v)*222.7, ex=i=>719+i*21;
T(833,903,'Risk',9,{},g);
[['#2a56a8','low',865],['#e8302a','high',901]].forEach(([c,t,x])=>{const k=E('rect',{x:x,y:893,width:10,height:11,fill:'#fff',stroke:c,'stroke-width':1},g);nm(k,'legend-key-'+t,false);
  E('line',{x1:x,x2:x+10,y1:898.5,y2:898.5,stroke:c},g);const tt=T(x+18,902,t,8.5,{},g);nm(tt,'legend-label',false);});
E('line',{x1:707,x2:707,y1:915,y2:1136,stroke:'#111','stroke-width':1},g);
E('line',{x1:707,x2:1048,y1:1136,y2:1136,stroke:'#111','stroke-width':1.3},g);
eYTicks.forEach(v=>{E('line',{x1:704,x2:707,y1:ey(v),y2:ey(v),stroke:'#111'},g);const t=T(702,ey(v)+3,v.toFixed(2),8.5,{'text-anchor':'end'},g);nm(t,'y-tick-label',false);});
const yt=T(0,0,'Score',9,{transform:'translate(684,1030) rotate(-90)','text-anchor':'middle'},g);nm(yt,'y-axis-title',false);
boxes(g,eCats,eLow,eHigh,eLowOut,eHighOut,ex,ey,4.2,4.6,{lowC:'#2a56a8',highC:'#e8302a',filled:false,or:1.5},0,1);
eCats.forEach((c,i)=>{E('line',{x1:ex(i),x2:ex(i),y1:1136,y2:1139,stroke:'#111'},g);
  const t=T(0,0,c,9,{transform:'translate('+(ex(i)+4)+',1143) rotate(-60)','text-anchor':'end'},g);nm(t,'x-tick-label',false);
  if(eSig[i]){const s=T(ex(i),934,eSig[i],7,{'text-anchor':'middle'},g);nm(s,'significance-stars',false);}});
})();

// ---------------- PANEL F ----------------
(function(){
const g=grp('panel-f-immune-function-scores');
letter(1062,902,'F');
const fy=v=>929.6+(1-v)*341, fx=i=>1124+i*29.4;
T(1251,905,'Risk',9.5,{},g);
[['#2a56a8','low',1282],['#e8302a','high',1319]].forEach(([c,t,x])=>{const k=E('rect',{x:x,y:895,width:12,height:12,fill:'#fff',stroke:c,'stroke-width':1},g);nm(k,'legend-key-'+t,false);
  E('line',{x1:x,x2:x+12,y1:901,y2:901,stroke:c},g);const tt=T(x+19,905,t,9,{},g);nm(tt,'legend-label',false);});
E('line',{x1:1107,x2:1107,y1:920,y2:1134,stroke:'#111','stroke-width':1},g);
E('line',{x1:1107,x2:1500,y1:1134,y2:1134,stroke:'#111','stroke-width':1.3},g);
fYTicks.forEach(v=>{E('line',{x1:1104,x2:1107,y1:fy(v),y2:fy(v),stroke:'#111'},g);const t=T(1102,fy(v)+3,v.toFixed(1),9,{'text-anchor':'end'},g);nm(t,'y-tick-label',false);});
const yt=T(0,0,'Score',9,{transform:'translate(1085,1030) rotate(-90)','text-anchor':'middle'},g);nm(yt,'y-axis-title',false);
boxes(g,fCats,fLow,fHigh,fLowOut,fHighOut,fx,fy,5.5,6,{lowC:'#2a56a8',highC:'#e8302a',filled:false,or:1.6},0.4,1);
fCats.forEach((c,i)=>{E('line',{x1:fx(i),x2:fx(i),y1:1134,y2:1137,stroke:'#111'},g);
  const t=T(0,0,c,9.8,{transform:'translate('+(fx(i)+4)+',1141) rotate(-62)','text-anchor':'end'},g);nm(t,'x-tick-label',false);
  if(fSig[i]){const s=T(fx(i),939,fSig[i],7,{'text-anchor':'middle'},g);nm(s,'significance-stars',false);}});
})();

// ---------------- PANEL G ----------------
(function(){
const g=grp('panel-g-checkpoint-expression');
letter(8,1260,'G');
const gy=v=>1483-v*14.5, gx=i=>58+i*20.8;
T(225,1272,'Risk',9,{},g);
[['#3a62b0','low',253],['#e83030','high',290]].forEach(([c,t,x])=>{const k=E('rect',{x:x,y:1262,width:11,height:11,fill:c,stroke:'#222','stroke-width':0.8},g);nm(k,'legend-key-'+t,false);
  E('line',{x1:x,x2:x+11,y1:1267.5,y2:1267.5,stroke:'#111'},g);const tt=T(x+17,1271,t,8.5,{},g);nm(tt,'legend-label',false);});
E('line',{x1:43,x2:43,y1:1292,y2:1488,stroke:'#111','stroke-width':1},g);
E('line',{x1:43,x2:507,y1:1488,y2:1488,stroke:'#111','stroke-width':1.4},g);
gYTicks.forEach(v=>{E('line',{x1:40,x2:43,y1:gy(v),y2:gy(v),stroke:'#111'},g);const t=T(38,gy(v)+3.5,String(v),10,{'text-anchor':'end'},g);nm(t,'y-tick-label',false);});
const yt=T(0,0,'Gene expression (TPM)',9,{transform:'translate(20,1380) rotate(-90)','text-anchor':'middle'},g);nm(yt,'y-axis-title',false);
boxes(g,gGenes,gLow,gHigh,gLowOut,gHighOut,gx,gy,4.4,4.6,{lowC:'#3a62b0',highC:'#e83030',filled:true,or:1.5},0,14);
gGenes.forEach((c,i)=>{E('line',{x1:gx(i),x2:gx(i),y1:1488,y2:1491,stroke:'#111'},g);
  const t=T(0,0,c,10,{transform:'translate('+(gx(i)+4)+',1496) rotate(-58)','text-anchor':'end'},g);nm(t,'x-tick-label',false);
  const s=T(gx(i),1295,gSig[i],7,{'text-anchor':'middle'},g);nm(s,'significance-stars',false);});
})();

// ---------------- PANEL H ----------------
(function(){
const g=grp('panel-h-subtype-table');
letter(522,1260,'H');
const x0=543,x1=1031;
const sc=['#9cc8d8','#a8d48c','#f29292','#f5b273','#b8a8d2'];
E('line',{x1:x0+4,x2:x1-4,y1:1278,y2:1278,stroke:'#111','stroke-width':2},g);
E('path',{d:'M'+(x0+10)+',1271 L'+x0+',1278 L'+(x0+10)+',1285',fill:'none',stroke:'#111','stroke-width':2},g);
E('path',{d:'M'+(x1-10)+',1271 L'+x1+',1278 L'+(x1-10)+',1285',fill:'none',stroke:'#111','stroke-width':2},g);
E('rect',{x:710,y:1268,width:154,height:20,fill:'#fff'},g);
const at=T(787,1283,'1082 TCGA patients',14.5,{'text-anchor':'middle','font-weight':'bold'},g);nm(at,'cohort-title',false);
const tot=hLowN.reduce((a,b)=>a+b,0)+hHighN.reduce((a,b)=>a+b,0);
const hx=n=>x0+(x1-x0)*n/tot;
let acc=0;
E('rect',{x:x0,y:1296,width:x1-x0,height:28,fill:'none',stroke:'#555','stroke-width':1.5},g);
E('rect',{x:x0,y:1328,width:x1-x0,height:28,fill:'none',stroke:'#555','stroke-width':1.5},g);
hSubtypes.forEach((s,i)=>{const n=hLowN[i]+hHighN[i];
  const r=E('rect',{x:hx(acc),y:1297,width:hx(acc+n)-hx(acc),height:26,fill:sc[i]},g);nm(r,'subtype-bar-'+s,false);
  const t=T((hx(acc)+hx(acc+n))/2,1314,s,11,{'text-anchor':'middle',fill:'#fff'},g);nm(t,'subtype-label',false);
  const a=E('rect',{x:hx(acc),y:1329,width:hx(acc+hLowN[i])-hx(acc),height:26,fill:'#2bb0a8'},g);nm(a,'prg-low-bar-'+s,false);
  const b=E('rect',{x:hx(acc+hLowN[i]),y:1329,width:hx(acc+n)-hx(acc+hLowN[i]),height:26,fill:'#e0706a'},g);nm(b,'prg-high-bar-'+s,false);
  acc+=n;});
// table
E('rect',{x:x0,y:1359,width:x1-x0,height:172,fill:'#fff',stroke:'#666','stroke-width':1.5},g);
const hd=E('rect',{x:x0+1,y:1360,width:86,height:72,fill:'#4a6ea8'},g);nm(hd,'prg-groups-header',false);
T(586,1392,'PRG',11.5,{'text-anchor':'middle',fill:'#fff','font-weight':'bold'},g);
T(586,1409,'groups',11.5,{'text-anchor':'middle',fill:'#fff','font-weight':'bold'},g);
const sh=E('rect',{x:632,y:1360,width:398,height:27,fill:'#4a6ea8'},g);nm(sh,'subtype-group-header',false);
T(831,1379,'subtype group (n=1082)',11.5,{'text-anchor':'middle',fill:'#fff','font-weight':'bold'},g);
const cx=[634,701,769,836,903],cw=63;
hSubtypes.forEach((s,i)=>{const r=E('rect',{x:cx[i],y:1389,width:cw,height:42,fill:sc[i]},g);nm(r,'subtype-col-header',false);
  T(cx[i]+cw/2,1405,s,10,{'text-anchor':'middle',fill:'#fff'},g);
  T(cx[i]+cw/2,1422,'(n='+(hLowN[i]+hHighN[i])+', '+hSubPct[i]+')',9.5,{'text-anchor':'middle',fill:'#fff'},g);
  const a=E('rect',{x:cx[i],y:1434,width:cw,height:46,fill:'#dcdcdc'},g);nm(a,'cell-prg-low-'+s,false);
  T(cx[i]+cw/2,1462,hLowN[i]+'('+hLowPct[i]+')',10.5,{'text-anchor':'middle',fill:'#222'},g);
  const b=E('rect',{x:cx[i],y:1484,width:cw,height:46,fill:'#a8a8a8'},g);nm(b,'cell-prg-high-'+s,false);
  T(cx[i]+cw/2,1512,hHighN[i]+'('+hHighPct[i]+')',10.5,{'text-anchor':'middle',fill:'#222'},g);});
const pc=E('rect',{x:969,y:1389,width:61,height:42,fill:'#a8a8a8'},g);nm(pc,'p-value-header',false);
T(999,1414,'P-value',10,{'text-anchor':'middle','font-style':'italic',fill:'#222'},g);
const pv=E('rect',{x:969,y:1434,width:61,height:96,fill:'#a8a8a8'},g);nm(pv,'p-value-cell',false);
T(999,1490,hPValue,10.5,{'text-anchor':'middle',fill:'#222'},g);
const rl=E('rect',{x:x0+1,y:1434,width:86,height:46,fill:'#2bb0a8'},g);nm(rl,'row-prg-low',false);
T(586,1453,'PRG\u2212low',11.5,{'text-anchor':'middle',fill:'#fff','font-weight':'bold'},g);
T(586,1471,'(n='+hLowN.reduce((a,b)=>a+b,0)+')',11.5,{'text-anchor':'middle',fill:'#fff','font-weight':'bold'},g);
const rh=E('rect',{x:x0+1,y:1484,width:86,height:46,fill:'#e0706a'},g);nm(rh,'row-prg-high',false);
T(586,1503,'PRG\u2212high',11.5,{'text-anchor':'middle',fill:'#fff','font-weight':'bold'},g);
T(586,1521,'(n='+hHighN.reduce((a,b)=>a+b,0)+')',11.5,{'text-anchor':'middle',fill:'#fff','font-weight':'bold'},g);
[['#2bb0a8','PRG\u2212low',707],['#e0706a','PRG\u2212high',793]].forEach(([c,t,x])=>{const k=E('rect',{x:x,y:1541,width:5,height:9,fill:c},g);nm(k,'legend-key',false);
  const tt=T(x+14,1550,t,13,{},g);nm(tt,'legend-entry',false);});
})();

// ---------------- PANEL I ----------------
(function(){
const g=grp('panel-i-tide-violin');
letter(1058,1260,'I');
const iy=v=>1431-v*110, ix=i=>1209+i*165;
T(1213,1258,'Risk',11,{},g);
[['#2e64b0','Low\u2212risk',1242],['#e8302a','High\u2212risk',1307]].forEach(([c,t,x])=>{const k=E('rect',{x:x,y:1242,width:15,height:15,fill:c,stroke:'#222','stroke-width':0.8},g);nm(k,'legend-key',false);
  const tt=T(x+19,1258,t,10.5,{},g);nm(tt,'legend-entry',false);});
E('line',{x1:1110,x2:1110,y1:1272,y2:1538,stroke:'#111','stroke-width':1},g);
E('line',{x1:1110,x2:1470,y1:1538,y2:1538,stroke:'#111','stroke-width':1.4},g);
iYTicks.forEach(v=>{E('line',{x1:1107,x2:1110,y1:iy(v),y2:iy(v),stroke:'#111'},g);const t=T(1104,iy(v)+4,v.toFixed(1).replace('-','\u2212'),11,{'text-anchor':'end'},g);nm(t,'y-tick-label',false);});
const yt=T(0,0,'TIDE',11,{transform:'translate(1080,1405) rotate(-90)','text-anchor':'middle'},g);nm(yt,'y-axis-title',false);
[[iLowY,iLowW,iLowBox,iLowOut,'#2e64b0',73,'low'],[iHighY,iHighW,iHighBox,iHighOut,'#e8302a',82,'high']].forEach(([Y,W,B,O,col,half,k],i)=>{
  const cx=ix(i);
  const p=E('path',{d:violinPath(cx,Y,W,iy,half),fill:col,stroke:'#111','stroke-width':1},g);nm(p,'violin-'+k,false);
  E('line',{x1:cx,x2:cx,y1:iy(Y[0]),y2:iy(Y[Y.length-1]),stroke:'#111','stroke-width':0.7},g);
  const b=E('rect',{x:cx-16,y:iy(B[2]),width:32,height:iy(B[0])-iy(B[2]),fill:'#fff',stroke:'#111','stroke-width':1.3},g);nm(b,'box-'+k,false);
  E('line',{x1:cx-16,x2:cx+16,y1:iy(B[1]),y2:iy(B[1]),stroke:'#111','stroke-width':2.2},g);
  O.forEach(v=>{const o=E('circle',{cx:cx,cy:iy(v),r:2,fill:'#111'},g);nm(o,'outlier-point',false);});
  E('line',{x1:cx,x2:cx,y1:1538,y2:1541,stroke:'#111'},g);
  const t=T(cx,1556,iCats[i],11,{'text-anchor':'middle'},g);nm(t,'x-tick-label',false);});
E('path',{d:'M'+ix(0)+','+(iy(iLowY[iLowY.length-1])-2)+' V1288 H'+ix(1)+' V'+(iy(iHighY[iHighY.length-1])-2),fill:'none',stroke:'#111','stroke-width':0.8},g);
const s=T((ix(0)+ix(1))/2,1284,'***',7,{'text-anchor':'middle'},g);nm(s,'significance-stars',false);
})();
</script>
</body></html>
